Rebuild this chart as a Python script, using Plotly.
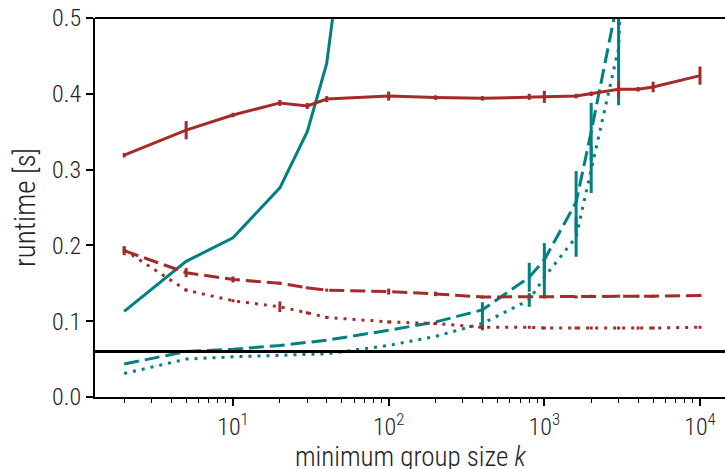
import plotly.graph_objects as go

# minimum group size k
k_red = [2, 5, 10, 20, 30, 40, 100, 200, 400, 800, 1000, 1600, 2000, 3000, 4000, 5000, 10000]
k_teal = [2, 5, 10, 20, 30, 40, 100, 200, 400, 800, 1000, 1600, 2000, 3000, 4000]
k_teal_solid = [2, 5, 10, 20, 30, 40, 100]

# runtime [s]
red_solid = [0.319, 0.352, 0.372, 0.388, 0.384, 0.393, 0.397, 0.395, 0.394, 0.396, 0.396,
             0.397, 0.400, 0.406, 0.406, 0.409, 0.424]
red_solid_err = [0.003, 0.012, 0.003, 0.004, 0.004, 0.004, 0.006, 0.003, 0.003, 0.004, 0.008,
                 0.003, 0.003, 0.010, 0.003, 0.007, 0.012]
red_dashed = [0.193, 0.164, 0.155, 0.150, 0.144, 0.141, 0.139, 0.136, 0.132, 0.132, 0.132,
              0.132, 0.133, 0.133, 0.133, 0.133, 0.134]
red_dashed_err = [0.006, 0.006, 0.004, 0.002, 0.002, 0.002, 0.004, 0.003, 0.002, 0.002, 0.002,
                  0.002, 0.002, 0.002, 0.002, 0.002, 0.002]
red_dotted = [0.194, 0.141, 0.127, 0.119, 0.111, 0.105, 0.099, 0.097, 0.092, 0.092, 0.091,
              0.091, 0.091, 0.091, 0.091, 0.091, 0.092]
red_dotted_err = [0.004, 0.002, 0.002, 0.007, 0.002, 0.002, 0.002, 0.002, 0.003, 0.002, 0.002,
                  0.002, 0.002, 0.002, 0.002, 0.002, 0.002]
teal_solid = [0.113, 0.179, 0.210, 0.276, 0.350, 0.440, 1.07]
teal_dashed = [0.0435, 0.060, 0.063, 0.068, 0.072, 0.075, 0.088, 0.099, 0.115, 0.158, 0.181,
               0.257, 0.350, 0.530, 1.5]
teal_dashed_err = [0, 0, 0, 0, 0, 0, 0, 0, 0.010, 0.019, 0.022, 0.041, 0.038, 0.04, 0]
teal_dotted = [0.031, 0.050, 0.053, 0.055, 0.056, 0.057, 0.068, 0.080, 0.097, 0.128, 0.158,
               0.211, 0.300, 0.460, 1.2]
teal_dotted_err = [0, 0, 0, 0, 0, 0, 0, 0, 0.009, 0.009, 0.027, 0.026, 0.031, 0.075, 0]
baseline = 0.06

RED = "#a52a2a"
TEAL = "#008080"
DASH = "15px,6px"
DOT = "3px,6px"

fig = go.Figure()


def add(x, y, color, dash, err=None):
    fig.add_trace(go.Scatter(
        x=x, y=y, mode="lines",
        line=dict(color=color, width=3, dash=dash),
        error_y=dict(type="data", array=err, visible=err is not None,
                     color=color, thickness=3, width=0),
        showlegend=False,
    ))


add(k_teal_solid, teal_solid, TEAL, "solid")
add(k_teal, teal_dashed, TEAL, DASH, teal_dashed_err)
add(k_teal, teal_dotted, TEAL, DOT, teal_dotted_err)
add(k_red, red_solid, RED, "solid", red_solid_err)
add(k_red, red_dashed, RED, DASH, red_dashed_err)
add(k_red, red_dotted, RED, DOT, red_dotted_err)

fig.add_hline(y=baseline, line=dict(color="black", width=3))
# top frame line
fig.add_shape(type="line", xref="paper", yref="paper", x0=0, x1=1, y0=1, y1=1,
              line=dict(color="black", width=2))

FONT = "Liberation Sans Narrow, Roboto Condensed, Roboto, sans-serif"
minor_vals = [m * 10 ** e for e in range(0, 5) for m in range(2, 10)]

# x-axis title placed just below the tick labels
fig.add_annotation(text="minimum group size <i>k</i>", xref="paper", yref="paper",
                   x=0.5, y=0, xanchor="center", yanchor="top", yshift=-42,
                   showarrow=False, font=dict(family=FONT, size=27, color="#222", weight=300))

fig.update_layout(
    width=725, height=469,
    margin=dict(l=95, r=0, t=18, b=72),
    plot_bgcolor="white", paper_bgcolor="white",
    font=dict(family=FONT, size=24, color="#222", weight=300),
    xaxis=dict(
        type="log", range=[0.1135, 4.1606],
        tickvals=[10, 100, 1000, 10000],
        ticktext=["10<sup>1</sup>", "10<sup>2</sup>", "10<sup>3</sup>", "10<sup>4</sup>"],
        ticks="outside", ticklen=7, tickwidth=1.5, tickcolor="black",
        minor=dict(tickvals=minor_vals, ticks="outside", ticklen=4, tickwidth=1.2,
                   tickcolor="black", showgrid=False),
        showline=True, linecolor="black", linewidth=2,
        showgrid=False, zeroline=False, automargin=False,
    ),
    yaxis=dict(
        range=[0, 0.5], tickvals=[0, 0.1, 0.2, 0.3, 0.4, 0.5], tickformat=".1f",
        ticks="outside", ticklen=7, tickwidth=1.5, tickcolor="black",
        showline=True, linecolor="black", linewidth=2,
        showgrid=False, zeroline=False, automargin=False,
        title=dict(text="runtime [s]", standoff=8),
    ),
)

fig.write_html("out.html")
